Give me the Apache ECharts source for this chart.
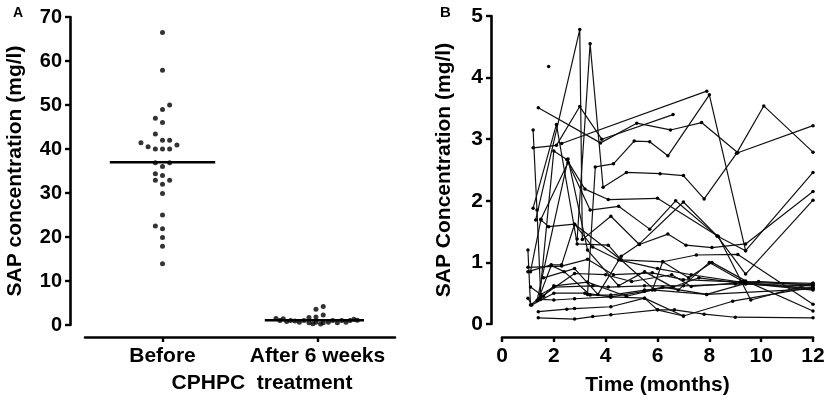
<html>
<head>
<meta charset="utf-8">
<title>SAP concentration</title>
<script src="https://cdn.jsdelivr.net/npm/echarts@6/dist/echarts.min.js"></script>
<style>
  html, body { margin: 0; padding: 0; background: #fff; }
  #main { width: 831px; height: 403px; }
</style>
</head>
<body>
<div id="main"></div>
<script type="text/javascript">
// ---- panel A : dot plot ----
var groups = ['Before', 'After 6 weeks'];
// x position inside the category band (0..2, centre of band = 0.5 / 1.5)
var beforeX = [0.5, 0.5, 0.546, 0.5, 0.454, 0.5, 0.454, 0.5, 0.546, 0.361,
               0.593, 0.407, 0.454, 0.5, 0.546, 0.454, 0.546, 0.5, 0.454, 0.5,
               0.454, 0.546, 0.5, 0.5, 0.5, 0.454, 0.5, 0.5, 0.5, 0.5];
var beforeY = [66.5, 57.9, 50.0, 49.0, 47.0, 46.0, 43.4, 42.0, 42.0, 41.4,
               40.9, 40.5, 40.0, 40.0, 40.0, 36.9, 36.9, 36.0, 34.4, 34.0,
               32.9, 32.9, 32.0, 29.9, 25.0, 22.5, 21.9, 19.9, 17.9, 13.9];
var afterX = [1.232, 1.258, 1.279, 1.301, 1.327, 1.355, 1.383, 1.413, 1.445, 1.445,
              1.47, 1.49, 1.49, 1.49, 1.52, 1.537, 1.537, 1.537, 1.57, 1.598,
              1.628, 1.656, 1.684, 1.71, 1.735, 1.757];
var afterY = [1.5, 1.0, 1.4, 0.8, 1.0, 0.9, 0.6, 1.0, 1.7, 0.5,
              0.3, 1.8, 0.6, 3.6, 0.2, 4.2, 2.3, 0.5, 0.6, 1.0,
              0.5, 1.0, 0.6, 1.0, 1.3, 1.1];
var groupMeans = [37.0, 1.1];
var yTicksA = [0, 70, 10];

// ---- panel B : individual patients over time ----
var p01 = [[1.3,1.69],[3.0,4.78],[3.1,1.37],[4.2,1.75],[5.3,1.29],[6.4,1.46],[7.1,1.28],[8.1,1.24],[9.4,1.30],[12,2.15]];
var p02 = [[2.9,1.38],[3.4,4.55],[3.9,2.22],[4.8,2.46],[6.1,2.44],[7.0,2.41],[7.8,2.03],[9.05,2.77],[10.1,3.54],[12,2.79]];
var p03 = [[1.2,2.86],[2.1,2.9],[3.0,3.53],[3.85,3.0],[6.6,3.4]];
var p04 = [[1.4,3.51],[3.8,2.94],[5.2,3.26],[6.5,3.15],[7.7,3.27],[9.1,2.78],[12,3.22]];
var p05 = [[2.3,2.93],[7.9,3.78]];
var p06 = [[3.3,0.48],[3.6,2.55],[4.3,2.6],[5.1,2.97],[5.7,2.96],[6.4,2.73],[8.0,3.72],[9.4,1.19],[12,2.46]];
var p07 = [[1.45,0.42],[2.0,2.81],[2.5,2.67],[3.2,2.19],[4.1,2.02],[6.0,2.04],[8.35,1.42],[9.6,0.39],[12,0.66]];
var p08 = [[1.5,1.70],[2.55,2.62],[3.4,1.85],[4.5,1.91],[5.7,1.54],[6.7,2.0],[8.3,1.43],[9.4,0.81],[12,2.01]];
var p09 = [[1.2,1.88],[2.1,3.24],[2.9,1.30],[4.1,1.28],[4.6,1.04],[5.9,0.55],[7.9,0.48],[12,0.57]];
var p10 = [[1.2,3.15],[1.35,1.85],[1.5,0.40],[2.0,0.39],[2.8,0.41],[4.2,0.44],[5.5,0.42],[6.0,0.23],[7.0,0.13]];
var p11 = [[1.0,1.20],[1.1,0.31],[1.5,0.44],[2.8,0.82],[4.0,0.80],[5.0,0.69],[6.55,0.80],[7.3,0.61],[9.9,0.69],[12,0.63]];
var p12 = [[1.0,0.85],[1.9,0.96],[2.3,0.96],[2.8,1.62],[4.6,1.04],[6.2,1.01],[7.5,1.12],[9.1,1.13],[12,0.32]];
var p13 = [[1.4,0.10],[2.8,0.08],[3.5,0.12],[4.2,0.15],[6.0,0.23],[6.65,0.23],[7.8,0.16],[9.0,0.11],[12,0.10]];
var p14 = [[1.4,0.20],[2.5,0.24],[2.8,0.25],[4.2,0.28],[5.5,0.42],[7.0,0.13],[8.9,0.37],[12,0.60]];
var p15 = [[1.0,0.42],[1.15,0.31],[2.0,0.50],[3.2,0.50],[4.2,0.44],[5.5,0.53],[6.2,0.60],[7.9,0.48],[9.4,0.66],[12,0.55]];
var p16 = [[1.1,0.85],[1.5,1.69],[1.8,1.58],[2.8,1.62],[3.5,1.25],[4.5,1.04],[6.0,0.9],[7.3,0.8],[9.2,0.68],[12,0.64]];
var p17 = [[1.1,0.60],[1.5,0.48],[2.0,0.60],[3.5,0.62],[4.1,0.60],[5.5,0.62],[7.0,0.62],[9.0,0.65],[12,0.62]];
var p18 = [[1.0,0.92],[2.3,0.94],[3.3,1.05],[4.3,0.80],[5.8,0.83],[7.0,0.72],[9.2,0.68],[12,0.57]];
var p19 = [[1.4,0.40],[1.9,0.95],[2.4,0.85],[3.4,0.47],[4.2,0.47],[5.5,0.55],[6.6,0.60],[7.6,0.75],[9.4,0.65],[12,0.58]];
var p20 = [[1.6,0.45],[2.0,0.62],[3.3,0.68],[4.8,0.45],[5.8,0.55],[6.2,1.01],[7.2,0.75],[8.1,1.0],[9.4,0.70],[12,0.21]];
var p21 = [[1.35,0.38],[2.55,2.68],[3.3,1.2],[4.5,0.62],[5.5,0.85],[6.8,0.55],[8.0,1.0],[9.3,0.69],[12,0.66]];
var p22 = [[1.8,4.18]];
var p23 = [[1.6,0.75],[2.8,0.9],[3.7,0.48],[4.6,1.1],[5.3,1.3],[7.0,1.98],[8.3,1.43],[9.4,1.19]];
var patients = [p01, p02, p03, p04, p05, p06, p07, p08, p09, p10, p11, p12,
                p13, p14, p15, p16, p17, p18, p19, p20, p21, p22, p23];
var monthTicks = [0, 12, 2];
var yTicksB = [0, 5, 1];

var FONT = 'Liberation Sans';
var myChart = echarts.init(document.getElementById('main'));

function zip(xs, ys) {
    var out = [];
    for (var i = 0; i < xs.length; i++) out.push([xs[i], ys[i]]);
    return out;
}
function axLine() {
    return { show: true, onZero: false, lineStyle: { color: 'black', width: 2.6 } };
}
function axTick(extra) {
    return Object.assign({ show: true, inside: false, length: 5,
                           lineStyle: { color: 'black', width: 2.4 } }, extra || {});
}
function axLabel(size, margin) {
    return { show: true, interval: 0, margin: margin, color: '#000',
             fontFamily: FONT, fontWeight: 'bold', fontSize: size };
}
function axName(size, extra) {
    return Object.assign({ color: '#000', fontWeight: 'bold', fontSize: size }, extra || {});
}

var series = [
    {   type: 'scatter', xAxisIndex: 1, yAxisIndex: 0,
        symbolSize: 5, itemStyle: { color: '#000' },
        data: zip(beforeX, beforeY) },
    {   type: 'scatter', xAxisIndex: 1, yAxisIndex: 0,
        symbolSize: 5, itemStyle: { color: '#000' },
        data: zip(afterX, afterY) },
    // group means, drawn as short horizontal bars across each dot cloud
    {   type: 'line', xAxisIndex: 1, yAxisIndex: 0, symbol: 'none',
        lineStyle: { color: '#000', width: 2.5 },
        data: [[0.16, groupMeans[0]], [0.84, groupMeans[0]]] },
    {   type: 'line', xAxisIndex: 1, yAxisIndex: 0, symbol: 'none',
        lineStyle: { color: '#000', width: 2.5 },
        data: [[1.16, groupMeans[1]], [1.80, groupMeans[1]]] }
];
patients.forEach(function (p) {
    series.push({
        type: 'line', xAxisIndex: 2, yAxisIndex: 1,
        symbol: 'circle', symbolSize: 3.5, showAllSymbol: true,
        lineStyle: { color: '#111', width: 1.2 },
        itemStyle: { color: '#000' },
        data: p
    });
});

option = {
    animation: false,
    backgroundColor: '#fff',
    grid: [
        { left: 85, width: 310, top: 17, bottom: 78 },
        { left: 502, right: 18, top: 16, bottom: 79 }
    ],
    graphic: [
        { type: 'text', left: 13, top: 6,
          style: { text: 'A', font: 'bold 14px ' + FONT, fill: '#000' } },
        { type: 'text', left: 440, top: 5,
          style: { text: 'B', font: 'bold 15px ' + FONT, fill: '#000' } }
    ],
    xAxis: [
        {   gridIndex: 0, type: 'category', data: groups, offset: 12,
            boundaryGap: true,
            axisLine: axLine(),
            axisTick: axTick({ alignWithLabel: true, interval: 0 }),
            axisLabel: axLabel(21, 9),
            splitLine: { show: false },
            name: 'CPHPC  treatment', nameLocation: 'middle', nameGap: 36,
            nameTextStyle: axName(21, { fontFamily: FONT, padding: [0, 0, 0, 44] }) },
        {   gridIndex: 0, type: 'value', min: 0, max: 2, show: false },
        {   gridIndex: 1, type: 'value', min: monthTicks[0], max: monthTicks[1], interval: monthTicks[2],
            offset: 13,
            axisLine: axLine(), axisTick: axTick(),
            axisLabel: axLabel(21, 9),
            splitLine: { show: false },
            name: 'Time (months)', nameLocation: 'middle', nameGap: 38,
            nameTextStyle: axName(21, { fontFamily: FONT }) }
    ],
    yAxis: [
        {   gridIndex: 0, type: 'value', min: yTicksA[0], max: yTicksA[1], interval: yTicksA[2],
            offset: 15,
            axisLine: axLine(), axisTick: axTick(),
            axisLabel: axLabel(20, 8),
            splitLine: { show: false },
            name: 'SAP concentration (mg/l)', nameLocation: 'middle', nameGap: 44,
            nameTextStyle: axName(21) },
        {   gridIndex: 1, type: 'value', min: yTicksB[0], max: yTicksB[1], interval: yTicksB[2],
            offset: 11,
            axisLine: axLine(), axisTick: axTick(),
            axisLabel: axLabel(21, 8),
            splitLine: { show: false },
            name: 'SAP Concentration (mg/l)', nameLocation: 'middle', nameGap: 36,
            nameTextStyle: axName(21) }
    ],
    series: series
};
myChart.setOption(option);
</script>
</body>
</html>
